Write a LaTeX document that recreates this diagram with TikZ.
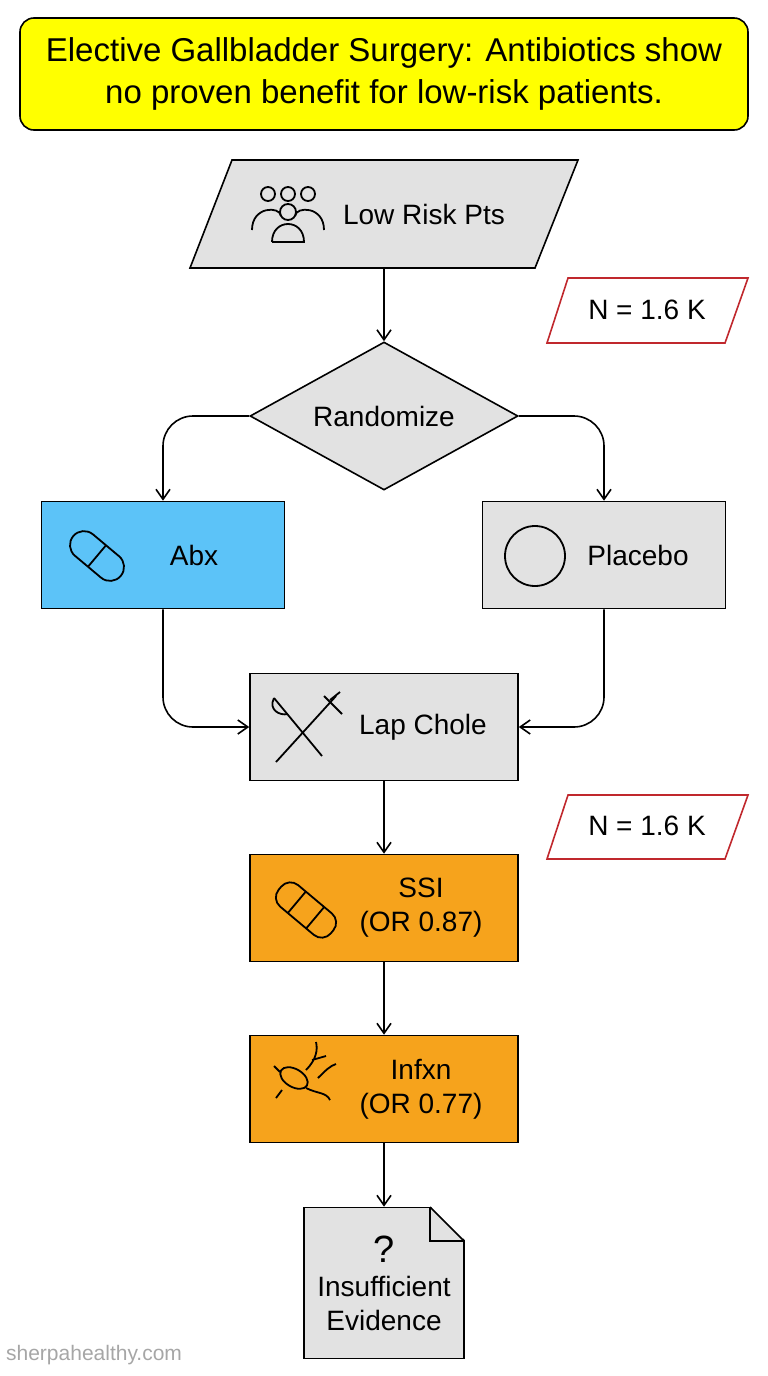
\documentclass[tikz,border=0pt]{standalone}
\usepackage{fontspec}
\setmainfont{Liberation Sans}
\usetikzlibrary{shapes.geometric,arrows.meta}
\definecolor{gr}{HTML}{E2E2E2}
\definecolor{bl}{HTML}{5CC3F8}
\definecolor{orng}{HTML}{F6A31C}
\definecolor{yl}{HTML}{FFFF00}
\definecolor{rd}{HTML}{C0282D}
\begin{document}
\begin{tikzpicture}[x=1pt,y=-1pt,line width=1.6pt,
 fnt/.style={font=\fontsize{28}{34}\selectfont},
 box/.style={draw,minimum width=268pt,minimum height=107pt,fnt,align=center},
 arr/.style={-{Straight Barb[length=10pt,width=14pt]},line width=1.6pt,rounded corners=30pt},
 ic/.style={line width=1.8pt}]
\useasboundingbox (0,0) rectangle (768,1376);
\node[draw,fill=yl,rounded corners=14pt,minimum width=728pt,minimum height=112pt,align=center,font=\fontsize{33}{42}\selectfont] (t) at (384,74) {Elective Gallbladder Surgery: Antibiotics show\\no proven benefit for low-risk patients.};
\draw[fill=gr] (232,160) -- (578,160) -- (535,268) -- (190,268) -- cycle;
\node[minimum width=300pt,minimum height=108pt,inner sep=0pt] (lr) at (384,214) {};
\node[fnt] (lrt) at (424,214) {Low Risk Pts};
\foreach \x/\y in {268/194,288/194,308/194}{\draw[ic] (\x,\y) circle (7);}
\draw[ic] (288,212) circle (8);
\draw[ic] (252,230) .. controls (252,206) and (280,206) .. (281,216);
\draw[ic] (295,216) .. controls (296,206) and (324,206) .. (324,230);
\draw[ic] (272,242) .. controls (272,218) and (304,218) .. (304,242) -- (272,242);
\draw[rd] (568,278) -- (748,278) -- (725,343) -- (547,343) -- cycle;
\node[fnt] (n1) at (647,310) {N = 1.6 K};
\node[draw,fill=gr,diamond,minimum width=268pt,minimum height=148pt,aspect=1.8,inner sep=0pt,fnt] (r) at (384,416) {Randomize};
\node[box,fill=bl,minimum width=243pt] (abx) at (163,555) {};
\node[fnt] (abxt) at (194,555) {Abx};
\draw[ic,rounded corners=14pt,rotate around={-40:(97,556)}] (66,542) rectangle (128,570);
\draw[ic,rotate around={-40:(97,556)}] (97,542) -- (97,570);
\node[box,fill=gr,minimum width=243pt] (pl) at (604,555) {};
\node[fnt] (plt) at (638,555) {Placebo};
\draw[ic] (535,556) circle (30);
\node[box,fill=gr] (lc) at (384,727) {};
\node[fnt] (lct) at (423,727) {Lap Chole};
\draw[ic] (274,698) -- (322,756);
\draw[ic] (274,698) .. controls (268,710) and (280,716) .. (288,714);
\draw[ic] (336,696) -- (276,762);
\draw[ic] (324,696) -- (342,714);
\draw[ic] (330,700) -- (340,692);
\draw[rd] (568,795) -- (748,795) -- (725,859) -- (547,859) -- cycle;
\node[fnt] (n2) at (647,826) {N = 1.6 K};
\node[box,fill=orng] (ssi) at (384,908) {\hspace*{74pt}SSI\\\hspace*{74pt}(OR 0.87)};
\draw[ic,rounded corners=12pt,rotate around={-40:(306,910)}] (272,896) rectangle (340,924);
\draw[ic,rotate around={-40:(306,910)}] (294,896) -- (294,924) (318,896) -- (318,924);
\node[box,fill=orng] (inf) at (384,1089) {\hspace*{74pt}Infxn\\\hspace*{74pt}(OR 0.77)};
\draw[ic,rotate around={-30:(294,1078)}] (294,1078) ellipse (15 and 9);
\draw[ic] (306,1070) .. controls (316,1060) and (318,1050) .. (316,1042) (312,1060) -- (326,1056) (306,1088) .. controls (318,1094) and (326,1092) .. (330,1100) (280,1072) -- (274,1066) (282,1090) -- (276,1098) (318,1078) .. controls (326,1070) and (330,1066) .. (336,1064);
\node[draw,fill=gr,minimum width=160pt,minimum height=151pt] (doc) at (384,1283) {};
\fill[white] (430,1206) -- (466,1206) -- (466,1241) -- cycle;
\draw (430,1207) -- (430,1241) -- (464,1241);
\draw (430,1207) -- (464,1241);
\node[fnt,align=center] (doct) at (384,1283) {\fontsize{38}{38}\selectfont ?\\Insufficient\\Evidence};
\node[anchor=west,text=gray!70,font=\fontsize{21}{24}\selectfont] (w) at (2,1355) {sherpahealthy.com};
\draw[arr] (lr.south) -- (r.north);
\draw[arr] (r.west) -| (abx.north);
\draw[arr] (r.east) -| (pl.north);
\draw[arr] (abx.south) |- (lc.west);
\draw[arr] (pl.south) |- (lc.east);
\draw[arr] (lc.south) -- (ssi.north);
\draw[arr] (ssi.south) -- (inf.north);
\draw[arr] (inf.south) -- (doc.north);
\end{tikzpicture}
\end{document}
